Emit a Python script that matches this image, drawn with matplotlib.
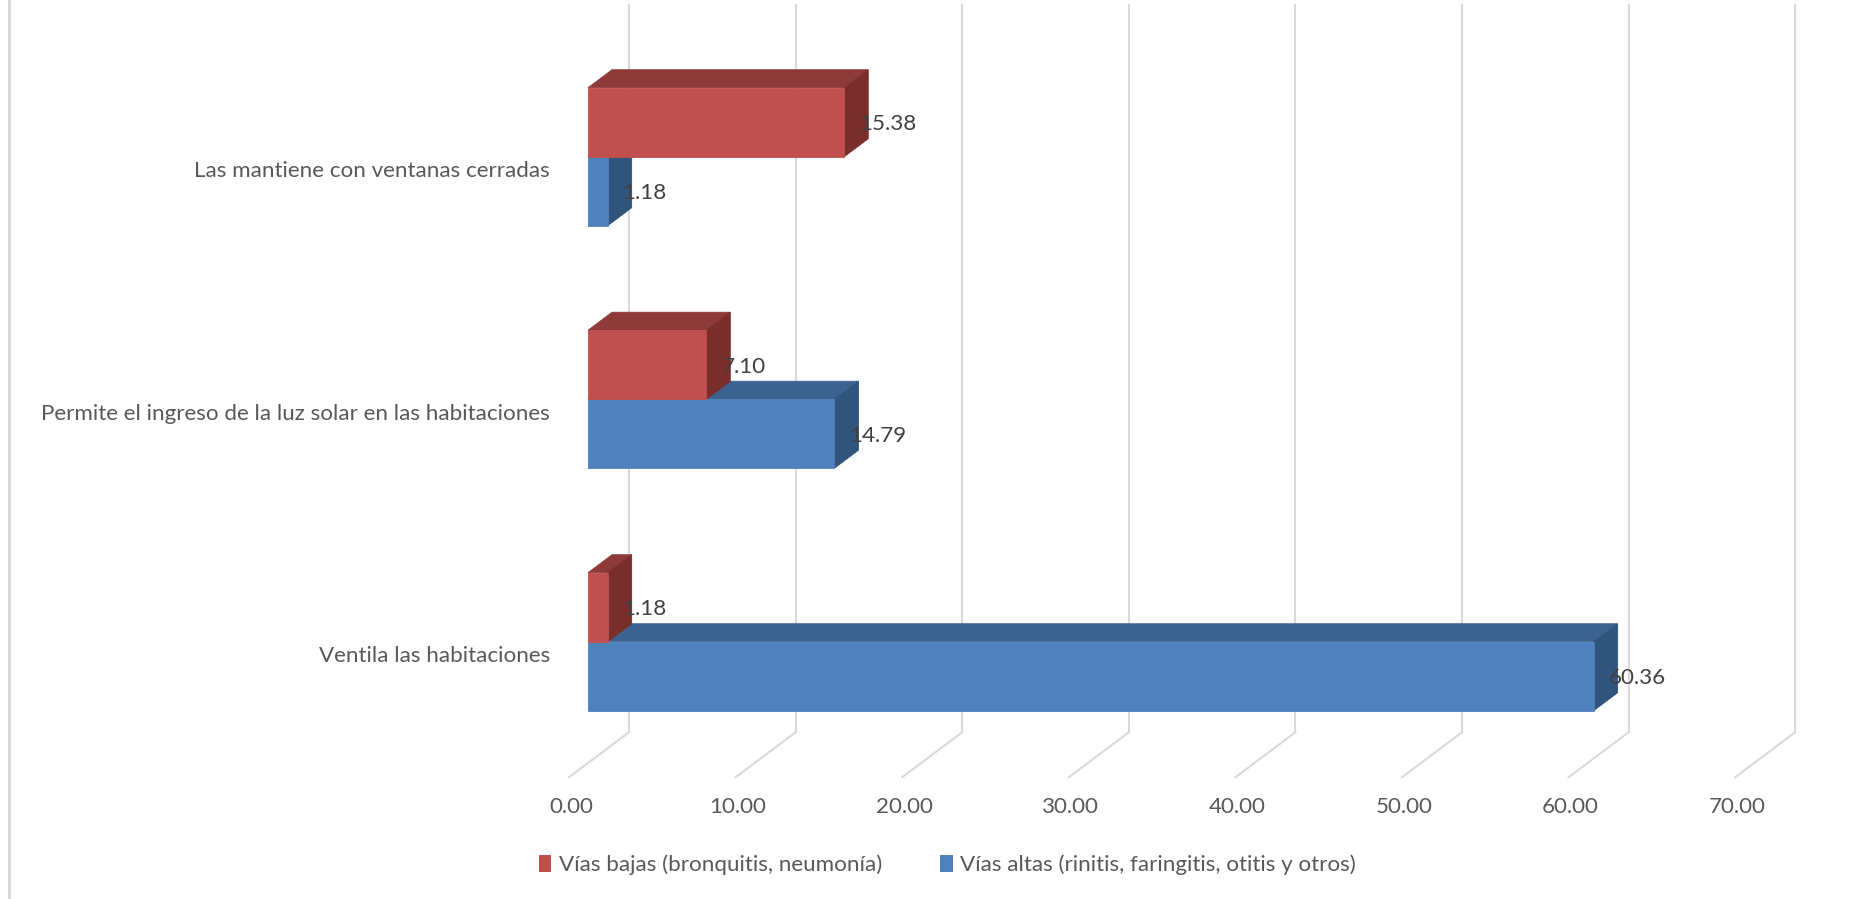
import matplotlib
matplotlib.use('Agg')
import matplotlib.pyplot as plt
from matplotlib.patches import Polygon, Patch
from matplotlib.lines import Line2D

# ---------------- data ----------------
categories = ["Ventila las habitaciones",
              "Permite el ingreso de la luz solar en las habitaciones",
              "Las mantiene con ventanas cerradas"]
series_names = ["Vías bajas (bronquitis, neumonía)",
                "Vías altas (rinitis, faringitis, otitis y otros)"]
vias_bajas = [1.18, 7.10, 15.38]
vias_altas = [60.36, 14.79, 1.18]
x_ticks = [0, 10, 20, 30, 40, 50, 60, 70]
tick_labels = [f"{t:.2f}" for t in x_ticks]

# ---------------- style ----------------
RED = dict(front="#C0504D", top="#8E3A38", side="#7A2E2C")
BLUE = dict(front="#4F81BD", top="#3C628F", side="#31547C")
GRID = "#D9D9D9"
TXT = "#595959"
LBL = "#404040"
FONT = "Lato"
FS = 16.1

W, H = 1865, 899
fig = plt.figure(figsize=(W / 100, H / 100), dpi=100)
ax = fig.add_axes([0, 0, 1, 1])

# layout scale (pixels per value unit / per category)
PXU, PXC = 16.66, 242.5
X0, Y0 = 629, 611
ax.set_xlim(-X0 / PXU, (W - X0) / PXU)
ax.set_ylim((Y0 - H) / PXC, Y0 / PXC)
ax.axis('off')

# 3D depth vector (full depth of floor)
DV, DC = -60 / PXU, -45 / PXC
ZF, ZB = 0.683, 0.283
HALF = 69 / PXC
FLOOR, TOP = -0.5, 2.5

# border on left
fig.add_artist(Line2D([9 / W, 9 / W], [0, 1], color=GRID, lw=2.2))

# gridlines on back wall and floor
for t, lab in zip(x_ticks, tick_labels):
    ax.plot([t, t], [FLOOR, TOP], color=GRID, lw=1.5, zorder=1)
    ax.plot([t, t + DV], [FLOOR, FLOOR + DC], color=GRID, lw=1.5, zorder=1)
    ax.annotate(lab, (t + DV, FLOOR + DC), xytext=(2, -30), textcoords='offset pixels',
                ha='center', va='center', fontsize=FS, color=TXT, family=FONT)


def bar3d(v, c_lo, c_hi, col, z):
    fx, bx = ZF * DV, ZB * DV
    fy, by = ZF * DC, ZB * DC
    front = [(fx, c_lo + fy), (v + fx, c_lo + fy), (v + fx, c_hi + fy), (fx, c_hi + fy)]
    top = [(fx, c_hi + fy), (v + fx, c_hi + fy), (v + bx, c_hi + by), (bx, c_hi + by)]
    side = [(v + fx, c_lo + fy), (v + bx, c_lo + by), (v + bx, c_hi + by), (v + fx, c_hi + fy)]
    for pts, key in ((top, "top"), (side, "side"), (front, "front")):
        ax.add_patch(Polygon(pts, closed=True, facecolor=col[key], edgecolor=col[key],
                             lw=0.6, zorder=z))


labels = []
for i, cat in enumerate(categories):
    c = i
    b = vias_altas[i]
    r = vias_bajas[i]
    bar3d(b, c - HALF, c, BLUE, 2 + i * 0.1)
    bar3d(r, c, c + HALF, RED, 2.05 + i * 0.1)
    labels.append((b, c - HALF / 2))
    labels.append((r, c + HALF / 2))
    ax.annotate(cat, (DV, c + DC), xytext=(-19, 0), textcoords='offset pixels',
                ha='right', va='center', fontsize=FS, color=TXT, family=FONT)

for v, cy in labels:
    ax.annotate(f"{v:.2f}", (v + ZF * DV, cy + ZF * DC), xytext=(15, -2),
                textcoords='offset pixels', ha='left', va='center',
                fontsize=FS, color=LBL, family=FONT, zorder=5)

handles = [Patch(facecolor=RED["front"]), Patch(facecolor=BLUE["front"])]
fig.legend(handles, series_names, loc='center', bbox_to_anchor=(0.508, 1 - 865 / H),
           ncol=2, frameon=False, handlelength=0.55, handleheight=0.8,
           handletextpad=0.35, columnspacing=2.6,
           prop=dict(family=FONT, size=FS), labelcolor=TXT)

fig.savefig("out.png", dpi=100, facecolor="white")
